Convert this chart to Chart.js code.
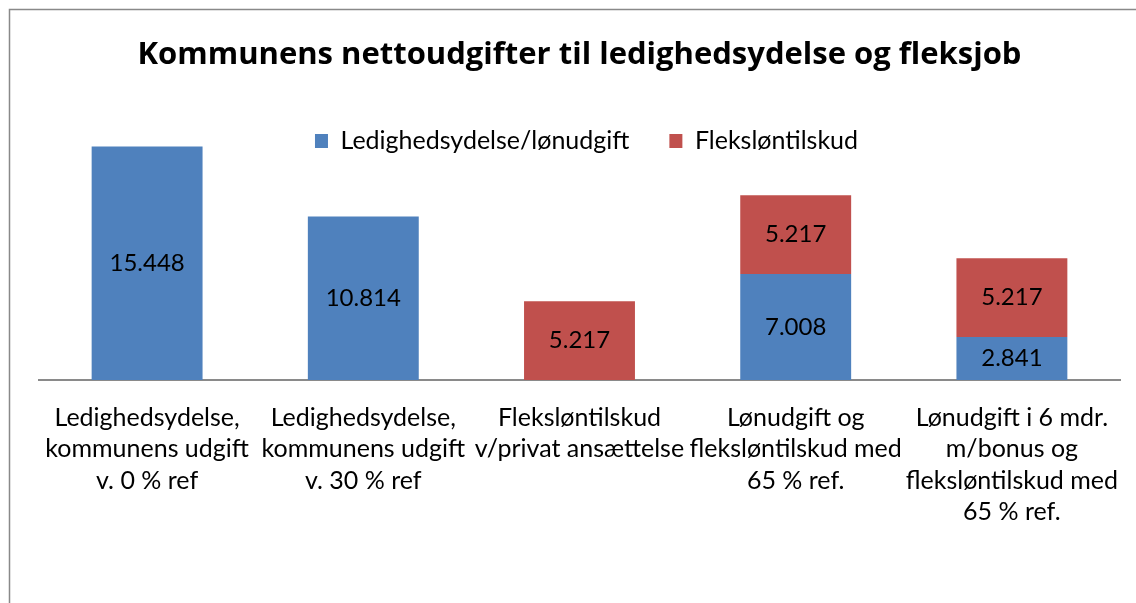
<!DOCTYPE html>
<html>
<head>
<meta charset="utf-8">
<script src="https://cdn.jsdelivr.net/npm/chart.js@4"></script>
<style>
  html, body { margin: 0; padding: 0; background: #fff; overflow: hidden; }
  #wrap { width: 1136px; height: 603px; overflow: hidden; position: relative; }
  canvas { display: block; }
</style>
</head>
<body>
<div id="wrap"><canvas id="c" width="1158" height="603"></canvas></div>
<script>
const categories = [
  ["Ledighedsydelse,", "kommunens udgift", "v. 0 % ref"],
  ["Ledighedsydelse,", "kommunens udgift", "v. 30 % ref"],
  ["Fleksløntilskud", "v/privat ansættelse"],
  ["Lønudgift og", "fleksløntilskud med", "65 % ref."],
  ["Lønudgift i 6 mdr.", "m/bonus og", "fleksløntilskud med", "65 % ref."]
];
const seriesNames = ["Ledighedsydelse/lønudgift", "Fleksløntilskud"];
const ledighedsydelse = [15448, 10814, null, 7008, 2841];
const flekslontilskud = [null, null, 5217, 5217, 5217];
const chartTitle = "Kommunens nettoudgifter til ledighedsydelse og fleksjob";

function fmt(v) {
  return String(Math.round(v)).replace(/\B(?=(\d{3})+(?!\d))/g, ".");
}

const FONT = "Lato";

const borderPlugin = {
  id: "outerBorder",
  beforeDraw(chart) {
    const ctx = chart.ctx;
    ctx.save();
    ctx.fillStyle = "#fff";
    ctx.fillRect(0, 0, chart.width, chart.height);
    ctx.strokeStyle = "#898989";
    ctx.lineWidth = 1.5;
    ctx.strokeRect(9.5, 9.5, chart.width - 19, 2000);
    ctx.restore();
  }
};

// nudge the legend slightly right, as in the original layout
const legendShift = {
  id: "legendShift",
  afterLayout(chart) {
    if (chart.legend) {
      chart.legend.left += 7;
      chart.legend.right += 7;
    }
  }
};

const valueLabels = {
  id: "valueLabels",
  afterDatasetsDraw(chart) {
    const ctx = chart.ctx;
    ctx.save();
    ctx.fillStyle = "#000";
    ctx.font = "24px " + FONT;
    ctx.textAlign = "center";
    ctx.textBaseline = "middle";
    chart.data.datasets.forEach((ds, i) => {
      const meta = chart.getDatasetMeta(i);
      meta.data.forEach((el, j) => {
        const v = ds.data[j];
        if (v == null) return;
        const p = el.getProps(["x", "y", "base"], true);
        ctx.fillText(fmt(v), p.x, (p.y + p.base) / 2);
      });
    });
    ctx.restore();
  }
};

new Chart(document.getElementById("c"), {
  type: "bar",
  data: {
    labels: categories,
    datasets: [
      { label: seriesNames[0], data: ledighedsydelse, backgroundColor: "#4F81BD", borderWidth: 0, clip: false },
      { label: seriesNames[1], data: flekslontilskud, backgroundColor: "#C0504D", borderWidth: 0, clip: false }
    ]
  },
  options: {
    responsive: false,
    animation: false,
    layout: { padding: { left: 39, right: 38, top: 0, bottom: 53 } },
    datasets: { bar: { categoryPercentage: 1, barPercentage: 0.513 } },
    plugins: {
      title: {
        display: true,
        text: chartTitle,
        color: "#000",
        font: { family: "Open Sans", size: 31, weight: "bold", lineHeight: 1.2 },
        padding: { top: 36.4, bottom: 14.9 }
      },
      legend: {
        display: true,
        labels: {
          color: "#000",
          font: { family: FONT, size: 25 },
          boxWidth: 13, boxHeight: 14,
          padding: 40
        }
      },
      tooltip: { enabled: false }
    },
    scales: {
      x: {
        stacked: true,
        grid: { display: false, drawTicks: false },
        border: { display: true, color: "#8a8a8a", width: 2 },
        ticks: {
          color: "#000",
          font: { family: FONT, size: 25, lineHeight: 1.26 },
          padding: 22,
          maxRotation: 0, autoSkip: false
        }
      },
      y: {
        stacked: true,
        display: false,
        min: 0,
        max: 14320
      }
    }
  },
  plugins: [borderPlugin, legendShift, valueLabels]
});
</script>
</body>
</html>
